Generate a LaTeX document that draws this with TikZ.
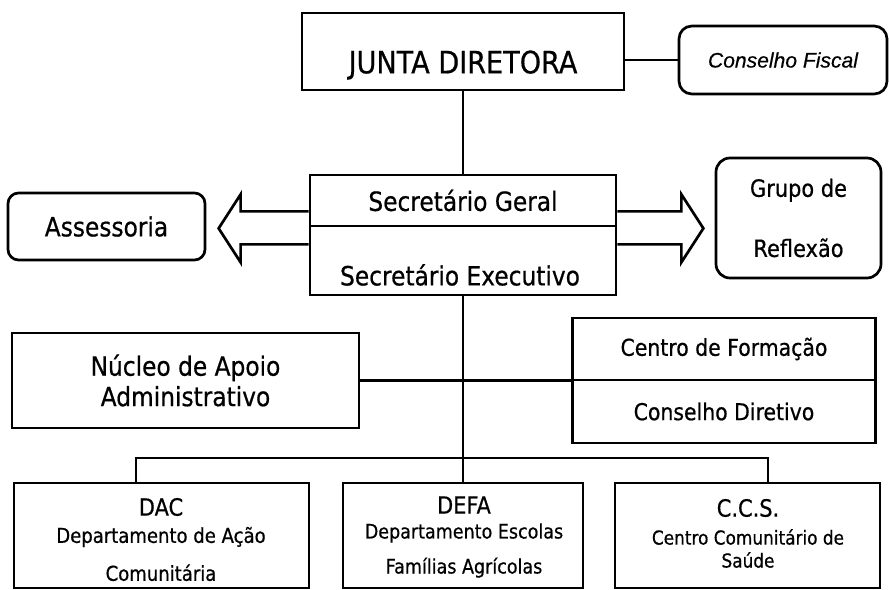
\documentclass[tikz,border=0pt]{standalone}
\usepackage{fontspec}
\setmainfont{DejaVu Sans}[FakeStretch=0.88, FakeBold=0.6]
\newfontfamily\fiscalfont{Liberation Sans}[FakeBold=0.4]

\tikzset{
    box/.style={draw=black, line width=2.3pt, inner sep=0pt, align=center},
    softbox/.style={box, rounded corners=9pt},
    big/.style={font=\fontsize{26.3}{31}\selectfont},
    mid/.style={font=\fontsize{22.6}{26}\selectfont},
    plain/.style={font=\fontsize{20.3}{24}\selectfont},
    small/.style={align=center, font=\fontsize{17.5}{21}\selectfont},
    wire/.style={line width=2.3pt},
    fatarrow/.style={line width=2.3pt, line join=miter},
}

\begin{document}
\begin{tikzpicture}[x=0.03cm, y=-0.03cm]
    \useasboundingbox (0,0) rectangle (889,590);
    % top level
    \node[box, minimum width=9.66cm, minimum height=2.31cm] at (463,51.5) (junta) {};
    \node[big] at (463,65) (juntatxt) {JUNTA DIRETORA};
    \node[softbox, rounded corners=11pt, minimum width=6.24cm, minimum height=2.04cm,
          font=\fiscalfont\itshape\fontsize{18}{22}\selectfont] at (783,60) (fiscal) {Conselho Fiscal};
    % secretaria
    \node[box, mid, minimum width=9.18cm, minimum height=1.53cm] at (463,200.5) (secgeral) {Secretário Geral};
    \node[box, minimum width=9.18cm, minimum height=2.07cm] at (463,260.5) (secexec) {};
    \node[mid] at (460,275) (exectxt) {Secretário Executivo};
    \node[softbox, mid, minimum width=5.91cm, minimum height=2.01cm] at (106.5,226.5) (assess) {Assessoria};
    \node[softbox, plain, rounded corners=12pt, minimum width=4.95cm, minimum height=3.6cm] at (798.5,218) (grupo) {Grupo de\\[0.96cm]Reflexão};
    % middle level
    \node[box, mid, minimum width=10.41cm, minimum height=2.85cm] at (185.5,380.5) (nucleo) {Núcleo de Apoio\\Administrativo};
    \node[box, font=\fontsize{19.8}{24}\selectfont, minimum width=9.1cm, minimum height=1.86cm] at (724,349) (formacao) {Centro de Formação};
    \node[box, font=\fontsize{19.8}{24}\selectfont, minimum width=9.1cm, minimum height=1.89cm] at (724,411.5) (diretivo) {Conselho Diretivo};
    % departments
    \node[box, minimum width=8.85cm, minimum height=3.15cm] at (161.5,535.5) (dac) {};
    \node[box, minimum width=7.2cm, minimum height=3.15cm] at (463,535.5) (defa) {};
    \node[box, minimum width=7.95cm, minimum height=3.15cm] at (747.5,535.5) (ccs) {};
    \node[plain] at (161,507) (dactit) {DAC};
    \node[small] at (161,554) (dacsub) {Departamento de Ação\\[0.4cm]Comunitária};
    \node[plain] at (464,505) (defatit) {DEFA};
    \node[small, font=\fontsize{17}{20.5}\selectfont] at (464,550.5) (defasub) {Departamento Escolas\\[0.33cm]Famílias Agrícolas};
    \node[plain] at (748,508) (ccstit) {C.C.S.};
    \node[small, font=\fontsize{16.4}{19.6}\selectfont] at (748,548.5) (ccssub) {Centro Comunitário de\\Saúde};
    \coordinate (forkl) at (136,458);
    \coordinate (forkr) at (768,458);

    \draw[wire] (junta.east |- fiscal.west) -- (fiscal.west);
    \draw[wire] (junta) -- (secgeral);
    \draw[wire] (secexec) -- (defa);
    \draw[wire] (nucleo.east) -- (nucleo.east -| diretivo.west);
    \draw[wire] (forkl |- dac.north) -- (forkl) -- (forkr) -- (forkr |- ccs.north);
    \draw[fatarrow] (secgeral.south west) ++(0,-16) -- ++(-68,0) -- ++(0,-17) -- ++(-22,34)
        -- ++(22,34) -- ++(0,-18) -- ++(68,0);
    \draw[fatarrow] (secgeral.south east) ++(0,-16) -- ++(64,0) -- ++(0,-17) -- ++(22,34)
        -- ++(-22,34) -- ++(0,-18) -- ++(-64,0);
\end{tikzpicture}
\end{document}
